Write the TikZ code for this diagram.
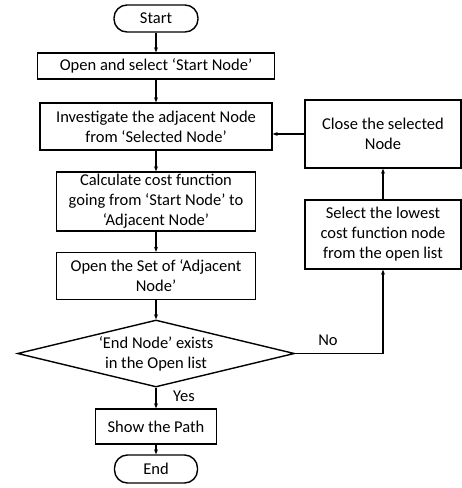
\documentclass[tikz,border=0pt]{standalone}
\usepackage{fontspec}
\setmainfont{Carlito}
\usetikzlibrary{shapes.geometric,arrows.meta}
\begin{document}
\begin{tikzpicture}[x=1pt,y=-1pt,
  every node/.style={font=\fontsize{16.5}{20}\selectfont, align=center, inner sep=0pt},
  box/.style={draw, line width=1.4pt, rectangle},
  term/.style={draw, line width=1.4pt, rectangle, rounded corners=13pt},
  dec/.style={draw, line width=1.4pt, diamond, aspect=4.1},
  conn/.style={line width=1.4pt, -{Stealth[length=5pt,width=4pt]}},
  lbl/.style={font=\fontsize{16.5}{20}\selectfont}]
\useasboundingbox (0,0) rectangle (462,488);
\node[term, minimum width=84pt, minimum height=27pt] (start) at (156,18.5) {Start};
\node[box, minimum width=237pt, minimum height=26pt] (open) at (156,66) {Open and select ‘Start Node’};
\node[box, minimum width=232pt, minimum height=47pt] (inv) at (156,126.5) {Investigate the adjacent Node\\from ‘Selected Node’};
\node[box, minimum width=199pt, minimum height=59pt] (calc) at (156,201.5) {Calculate cost function\\going from ‘Start Node’ to\\‘Adjacent Node’};
\node[box, minimum width=199pt, minimum height=47pt] (set) at (156,276) {Open the Set of ‘Adjacent\\Node’};
\node[dec, minimum width=277pt, minimum height=67pt] (dec) at (156,353.5) {‘End Node’ exists\\in the Open list};
\node[box, minimum width=121pt, minimum height=35pt] (show) at (156,426.5) {Show the Path};
\node[term, minimum width=83pt, minimum height=28pt] (end) at (156,469) {End};
\node[box, minimum width=156pt, minimum height=68pt] (close) at (383,134) {Close the selected\\Node};
\node[box, minimum width=156pt, minimum height=69pt] (sel) at (383,234.5) {Select the lowest\\cost function node\\from the open list};
\draw[conn] (start) -- (open);
\draw[conn] (open) -- (inv);
\draw[conn] (inv) -- (calc);
\draw[conn] (calc) -- (set);
\draw[conn] (set) -- (dec);
\draw[conn] (dec) -- (show);
\draw[conn] (show) -- (end);
\draw[conn] (dec.east) -| (sel.south);
\draw[conn] (sel) -- (close);
\draw[conn] (close.west) -- (close.west -| inv.east);
\node[lbl] (no) at (328,340) {No};
\node[lbl] (yes) at (184,396) {Yes};
\end{tikzpicture}
\end{document}
